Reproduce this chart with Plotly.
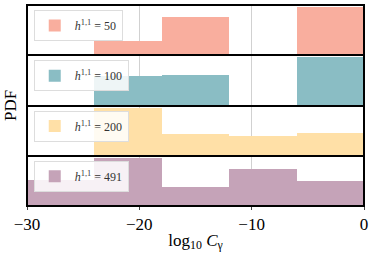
import plotly.graph_objects as go
from plotly.subplots import make_subplots

bin_centers = [-27, -21, -15, -9, -3]
bin_width = 6
labels = ["50", "100", "200", "491"]
pdf_50 = [0.0, 14, 38, 0.0, 47]
pdf_100 = [0.0, 29, 30, 0.0, 47]
pdf_200 = [0.0, 48, 22, 20, 23.3]
pdf_491 = [26, 48.3, 19.3, 37.7, 25]
series = [pdf_50, pdf_100, pdf_200, pdf_491]
colors = ["#F9AE9E", "#8ABDC4", "#FFE0A7", "#C5A3B8"]
x_ticks = [-30, -20, -10, 0]

fig = make_subplots(rows=4, cols=1, shared_xaxes=True, vertical_spacing=0)
serif = "Liberation Serif"

for i, (vals, lab, col) in enumerate(zip(series, labels, colors)):
    r = i + 1
    lname = "legend" if i == 0 else f"legend{i+1}"
    fig.add_trace(go.Bar(x=bin_centers, y=vals, width=bin_width,
                         marker=dict(color=col, line=dict(width=0)),
                         name=f"<i>h</i><sup>1,1</sup> = {lab}",
                         legend=lname, showlegend=True, hoverinfo="skip"), row=r, col=1)
    fig.update_yaxes(range=[0, max(vals) * 1.05], showticklabels=False, ticks="",
                     showgrid=False, zeroline=False, showline=True, linecolor="black",
                     linewidth=1, mirror=True, row=r, col=1)
    fig.update_xaxes(range=[-30, 0], tickvals=x_ticks, showgrid=True,
                     gridcolor="rgba(0,0,0,0.18)", gridwidth=1, zeroline=False,
                     showline=True, linecolor="black", linewidth=1, mirror=True,
                     ticks="outside" if r == 4 else "", ticklen=3,
                     showticklabels=(r == 4), row=r, col=1)

fig.update_xaxes(title=dict(text="log<sub>10</sub> <i>C</i><sub>γ</sub>",
                            font=dict(family=serif, size=17, color="black"), standoff=0),
                 tickfont=dict(family=serif, size=17, color="black"), row=4, col=1)

legend_layout = {}
for i in range(4):
    key = "legend" if i == 0 else f"legend{i+1}"
    dom = fig.layout[f"yaxis{'' if i == 0 else i+1}"].domain
    legend_layout[key] = dict(x=0.02, y=dom[1] - 0.025, xanchor="left", yanchor="top",
                              bgcolor="rgba(255,255,255,0.85)", bordercolor="#DDDDDD",
                              borderwidth=1, font=dict(family=serif, size=12, color="#333"),
                              itemwidth=30, tracegroupgap=0)

fig.update_layout(
    width=374, height=255,
    margin=dict(l=27, r=10, t=5, b=49),
    plot_bgcolor="white", paper_bgcolor="white",
    bargap=0,
    **legend_layout,
)
fig.add_shape(type="rect", xref="paper", yref="paper", x0=0, x1=1, y0=0, y1=1,
              line=dict(color="black", width=2), fillcolor="rgba(0,0,0,0)", layer="above")
fig.add_annotation(text="PDF", xref="paper", yref="paper", x=-0.015, y=0.5,
                   xanchor="right", yanchor="middle", textangle=-90, showarrow=False,
                   font=dict(family=serif, size=17, color="black"))

fig.write_html("out.html", config={"displayModeBar": False},
               post_script="document.body.style.margin='0';")
